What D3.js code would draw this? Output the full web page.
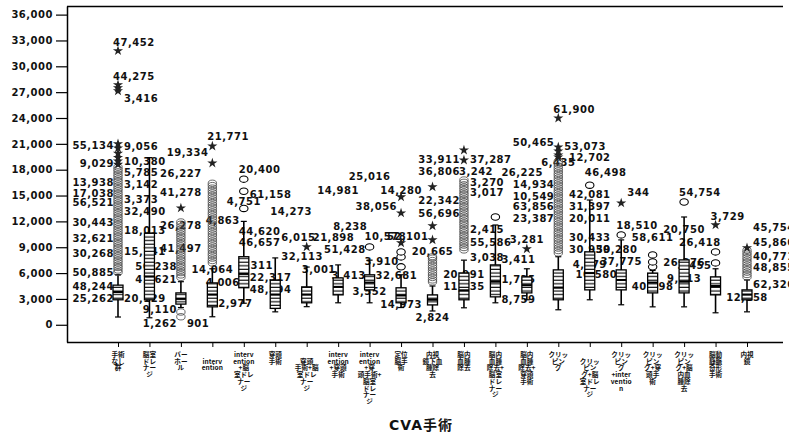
<!DOCTYPE html>
<html>
<head>
<meta charset="utf-8">
<script src="https://cdn.jsdelivr.net/npm/d3@7"></script>
<style>
  body { margin: 0; background: #fff; }
  svg { display: block; }
  text { font-family: "DejaVu Sans", sans-serif; }
</style>
</head>
<body>
<svg id="chart" width="789" height="438"></svg>
<script>
// カテゴリ（改行は表示上の折り返し）
const categories = [
  "手術\nなし\n群",
  "脳室\nドレ\nナー\nジ",
  "バー\nホー\nル",
  "\ninterv\nention",
  "interv\nention\n+脳\n室ドレ\nナー\nジ",
  "穿頭\n手術",
  "\n穿頭\n手術+脳\n室ドレ\nナー\nジ",
  "interv\nention\n+穿頭\n手術",
  "interv\nention\n+穿\n頭手術+\n脳室\nドレ\nナー\nジ",
  "定位\n脳手\n術",
  "内視\n鏡下血\n腫除\n去",
  "脳内\n血腫\n除去",
  "脳内\n血腫\n除去+\n脳室\nドレ\nナー\nジ",
  "脳内\n血腫\n除去+\n穿頭\n手術",
  "クリッ\nピン\nグ",
  "\nクリッ\nピン\nグ+脳\n室ドレ\nナー\nジ",
  "クリッ\nピン\nグ\n+inter\nventio\nn",
  "クリッ\nピン\nグ+穿\n頭手\n術",
  "クリッ\nピン\nグ+脳\n内血\n腫除\n去",
  "脳動\n静脈\n奇形\n手術",
  "内視\n鏡"
];

const yTicks = [0, 3000, 6000, 9000, 12000, 15000, 18000, 21000, 24000, 27000, 30000, 33000, 36000];

// 箱ひげ
const whiskerLow  = [900, 810, 2000, 930, 2500, 1500, 2100, 2550, 2550, 2000, 1600, 1970, 2550, 2900, 1740, 2900, 2320, 2080, 2080, 1390, 1500];
const q1          = [2900, 2900, 2400, 2080, 4300, 1900, 2550, 3470, 4050, 2550, 2300, 2900, 3240, 3700, 2900, 4050, 4050, 3700, 3700, 3470, 2900];
const medians     = [3800, 5600, 3000, 3500, 5900, 3500, 3500, 4400, 4900, 3400, 2900, 4000, 5000, 4600, 4300, 6000, 5200, 4900, 5000, 4500, 3500];
const q3          = [4600, 10650, 3700, 4860, 7900, 5200, 4400, 5440, 5800, 4290, 3470, 6020, 6950, 5560, 6370, 8460, 6370, 6000, 7530, 5560, 4050];
const whiskerHigh = [5800, 19400, 5000, 6500, 12000, 7760, 6700, 6950, 7500, 5800, 4500, 7500, 11580, 6500, 7900, 14480, 9850, 6300, 12510, 6500, 5200];

// 外れ値（○）
const outliers = [
  [6080, 6360, 6650, 6910, 7200, 7470, 7760, 8030, 8310, 8580, 8870, 9140, 9420, 9690, 9980, 10250, 10530, 10800, 11090, 11360, 11640, 11910, 12200, 12470, 12750, 13020, 13310, 13580, 13860, 14130, 14420, 14690, 14970, 15240, 15530, 15800, 16080, 16350, 16640, 16910, 17190, 17460, 17750, 18020, 18300],
  [],
  [930, 1480, 5500, 5790, 6060, 6340, 6630, 6900, 7180, 7470, 7740, 8020, 8310, 8580, 8860, 9150, 9420, 9700, 9990, 10260, 10540, 10830, 11100, 11380, 11670, 11930],
  [7180, 7460, 7740, 8030, 8300, 8590, 8860, 9140, 9430, 9700, 9980, 10270, 10540, 10820, 11110, 11380, 11660, 11950, 12220, 12500, 12790, 13060, 13340, 13630, 13900, 14180, 14470, 14740, 15020, 15310, 15580, 15860, 16150, 16420],
  [13500, 15500, 16900],
  [], [], [],
  [9040],
  [6720, 7880, 8460],
  [4980, 5210, 5490, 5770, 6040, 6330, 6610, 6880, 7170, 7450, 7720, 7880],
  [8690, 8970, 9250, 9520, 9810, 10090, 10360, 10650, 10930, 11200, 11490, 11770, 12040, 12330, 12610, 12880, 13170, 13450, 13720, 14010, 14290, 14560, 14850, 15130, 15400, 15690, 15970, 16240, 16530, 16800],
  [12510],
  [],
  [8340, 8620, 8900, 9170, 9460, 9740, 10010, 10300, 10580, 10850, 11140, 11420, 11690, 11980, 12260, 12530, 12820, 13100, 13370, 13660, 13940, 14210, 14500, 14780, 15050, 15340, 15620, 15890, 16180, 16460, 16730, 17020, 17300, 17570, 17860, 18140, 18410, 18700, 18980],
  [16200],
  [10430],
  [6720, 7300, 8110],
  [14250],
  [7180, 8460],
  [5560, 5840, 6110, 6400, 6680, 6950, 7240, 7520, 7790, 8080, 8360, 8640]
];

// 極値（★）
const extremes = [
  [18600, 19000, 19400, 19900, 20500, 21000, 27150, 27500, 27850, 31800],
  [], [13550], [18770, 20730], [], [], [9040], [], [],
  [9500, 12970, 14830],
  [9850, 11470, 16000],
  [19110, 20270],
  [], [8800],
  [19450, 19690, 20160, 20620, 23980],
  [], [14130], [], [], [11580], [8920]
];

// ケース番号ラベル [カテゴリ, 値, テキスト]
const labelsLeft = [
  [0, 20390, "55,134"], [0, 18300, "9,029"], [0, 16100, "13,938"], [0, 14830, "17,038"], [0, 13780, "56,521"],
  [0, 11470, "30,443"], [0, 9610, "32,621"], [0, 7880, "30,268"], [0, 5680, "50,885"], [0, 4050, "48,244"], [0, 2660, "25,262"],
  [2, 6370, "56,238"], [2, 4860, "41,621"], [2, 1390, "9,110"], [2, -230, "1,262"],
  [3, 19580, "19,334"], [4, 11700, "4,863"], [4, 4520, "4,006"],
  [8, 8340, "51,428"], [8, 5330, "3,413"], [9, 13320, "38,056"], [10, 9850, "52,101"],
  [11, 18770, "33,911"], [11, 17370, "36,806"], [11, 14020, "22,342"], [11, 12510, "56,696"],
  [14, 20730, "50,465"], [14, 15870, "14,934"], [14, 14480, "10,549"], [14, 13320, "63,856"], [14, 11930, "23,387"],
  [16, 5440, "10,580"], [19, 6490, "3,455"]
];
const labelsRight = [
  [0, 25830, "3,416"], [0, 20270, "9,056"], [0, 18530, "10,380"], [0, 17260, "5,785"], [0, 15870, "3,142"],
  [0, 14130, "3,373"], [0, 12740, "32,490"], [0, 10540, "18,013"], [0, 8110, "15,741"], [0, 2660, "20,129"],
  [2, -230, "901"], [3, 2080, "2,977"],
  [4, 14710, "61,158"], [4, 5100, "22,317"], [4, 3710, "48,594"],
  [5, 7530, "32,113"], [5, 9730, "6,015"], [6, 9730, "21,898"], [8, 5330, "32,681"],
  [11, 18770, "37,287"], [11, 16100, "3,270"], [11, 14940, "3,017"], [11, 10660, "2,415"], [11, 9150, "55,586"], [11, 7410, "3,038"],
  [12, 17260, "26,225"], [12, 7180, "3,411"], [12, 4860, "1,735"], [12, 2550, "8,759"],
  [14, 20270, "53,073"], [15, 8340, "59,280"], [16, 14940, "344"],
  [20, 10890, "45,754"], [20, 9150, "45,866"], [20, 7530, "40,771"], [20, 6250, "48,855"], [20, 4290, "62,326"]
];
const labelsAbove = [
  [0, 32400, "47,452"], [0, 28380, "44,275"], [3, 21430, "21,771"], [4, 17600, "20,400"], [4, 10430, "44,620"],
  [4, 9150, "46,657"], [4, 6490, "3,311"], [5, 12740, "14,273"], [6, 6020, "3,001"], [7, 11000, "8,238"],
  [8, 9850, "10,578"], [8, 6950, "3,910"], [11, 17370, "3,242"], [14, 24560, "61,900"], [15, 17260, "46,498"],
  [16, 11120, "18,510"], [18, 14940, "54,754"], [18, 9150, "26,418"], [19, 12160, "3,729"]
];
const labelsCenter = [
  [2, 17140, "26,227"], [2, 14940, "41,278"], [2, 11120, "26,278"], [2, 8450, "41,497"], [3, 6020, "14,064"],
  [4, 13900, "4,751"], [7, 15170, "14,981"], [8, 16800, "25,016"], [8, 3470, "3,552"], [9, 15170, "14,280"],
  [9, 1970, "14,973"], [10, 460, "2,824"], [10, 8110, "20,665"], [11, 5440, "20,991"], [11, 4050, "11,135"],
  [13, 9500, "3,281"], [14, 18420, "6,435"], [15, 19000, "12,702"], [15, 14710, "42,081"], [15, 13320, "31,397"],
  [15, 11930, "20,011"], [15, 9730, "30,433"], [15, 8340, "30,930"], [15, 6600, "4,079"], [16, 6950, "37,775"],
  [17, 9730, "58,611"], [17, 4050, "40,598"], [18, 10660, "20,750"], [18, 6830, "26,376"], [18, 4980, "9,013"],
  [20, 2780, "12,158"]
];

const svg = d3.select('#chart');
const W = 789, H = 438;
const plot = { left: 67, right: 783, top: 6, bottom: 342 };

svg.append('rect').attr('width', W).attr('height', H).attr('fill', '#fff');

const x = d3.scalePoint().domain(d3.range(categories.length)).range([118, 747]);
const y = d3.scaleLinear().domain([-2000, 37000]).range([plot.bottom, plot.top]);

// 箱の横縞
const defs = svg.append('defs');
const pat = defs.append('pattern')
  .attr('id', 'hatch').attr('patternUnits', 'userSpaceOnUse')
  .attr('width', 10).attr('height', 3.6);
pat.append('rect').attr('width', 10).attr('height', 3.6).attr('fill', '#fff');
pat.append('rect').attr('y', 2.4).attr('width', 10).attr('height', 1.2).attr('fill', '#111');

// 枠
svg.append('line')
  .attr('x1', plot.left).attr('x2', plot.right)
  .attr('y1', plot.top + 0.5).attr('y2', plot.top + 0.5)
  .attr('stroke', '#000').attr('stroke-width', 1.5);

// Y軸
const yAxis = svg.append('g')
  .attr('transform', `translate(${plot.left},0)`)
  .call(d3.axisLeft(y).tickValues(yTicks).tickFormat(d3.format(',')).tickSize(11).tickSizeOuter(0).tickPadding(3));
yAxis.select('.domain').attr('stroke-width', 1.5);
yAxis.selectAll('line').attr('stroke-width', 1.2);
yAxis.selectAll('text')
  .style('font-family', '"DejaVu Sans", sans-serif')
  .style('font-weight', 'bold')
  .style('font-size', '10px')
  .style('letter-spacing', '0.5px')
  .attr('fill', '#111');

// X軸
const xAxis = svg.append('g')
  .attr('transform', `translate(0,${plot.bottom})`)
  .call(d3.axisBottom(x).tickSize(5).tickSizeOuter(0).tickFormat(''));
xAxis.select('.domain').attr('d', `M${plot.left},0.5H${plot.right}`).attr('stroke-width', 1.5);

// カテゴリラベル
const catLabels = svg.append('g')
  .selectAll('text')
  .data(categories)
  .join('text')
  .attr('x', (d, i) => x(i))
  .attr('y', 357)
  .attr('text-anchor', 'middle')
  .style('font-family', '"Noto Sans CJK JP", sans-serif')
  .style('font-size', '6.6px')
  .style('font-weight', 'bold')
  .attr('fill', '#111');
catLabels.each(function(d) {
  const t = d3.select(this);
  d.split('\n').forEach((line, k) => {
    t.append('tspan').attr('x', t.attr('x')).attr('dy', k === 0 ? 0 : 6.7).text(line || ' ');
  });
});

// 軸タイトル
svg.append('text')
  .attr('x', 421).attr('y', 430)
  .attr('text-anchor', 'middle')
  .style('font-family', '"DejaVu Sans", "Noto Sans CJK JP", sans-serif')
  .style('font-size', '14px')
  .style('font-weight', 'bold')
  .style('letter-spacing', '1px')
  .attr('fill', '#111')
  .text('CVA手術');

// ケース番号ラベル
const lab = svg.append('g')
  .style('font-family', '"DejaVu Sans", sans-serif')
  .style('font-size', '10px')
  .style('font-weight', 'bold')
  .style('letter-spacing', '0.5px')
  .attr('fill', '#111');

function addLabels(list, dx, anchor) {
  lab.selectAll(null)
    .data(list)
    .join('text')
    .attr('x', d => x(d[0]) + dx)
    .attr('y', d => y(d[1]))
    .attr('text-anchor', anchor)
    .text(d => d[2]);
}
addLabels(labelsLeft, -4, 'end');
addLabels(labelsRight, 6, 'start');
addLabels(labelsAbove, -5, 'start');
addLabels(labelsCenter, 0, 'middle');

// 箱ひげ図
const bw = 10;
const boxes = svg.append('g')
  .selectAll('g')
  .data(categories.map((c, i) => i))
  .join('g')
  .attr('transform', i => `translate(${x(i)},0)`);

boxes.append('line')
  .attr('y1', i => y(whiskerLow[i])).attr('y2', i => y(whiskerHigh[i]))
  .attr('stroke', '#000').attr('stroke-width', 1.6);
boxes.append('line')
  .attr('x1', -3).attr('x2', 3)
  .attr('y1', i => y(whiskerLow[i])).attr('y2', i => y(whiskerLow[i]))
  .attr('stroke', '#000').attr('stroke-width', 1.2);
boxes.append('line')
  .attr('x1', -3).attr('x2', 3)
  .attr('y1', i => y(whiskerHigh[i])).attr('y2', i => y(whiskerHigh[i]))
  .attr('stroke', '#000').attr('stroke-width', 1.2);
boxes.append('rect')
  .attr('x', -bw / 2).attr('width', bw)
  .attr('y', i => y(q3[i])).attr('height', i => y(q1[i]) - y(q3[i]))
  .attr('fill', 'url(#hatch)')
  .attr('stroke', '#000').attr('stroke-width', 1.3);
boxes.append('line')
  .attr('x1', -bw / 2).attr('x2', bw / 2)
  .attr('y1', i => y(medians[i])).attr('y2', i => y(medians[i]))
  .attr('stroke', '#000').attr('stroke-width', 2);

// 外れ値 ○（重なると灰色の帯に見える）
boxes.each(function(i) {
  const dense = outliers[i].length > 5;
  d3.select(this).selectAll('ellipse')
    .data(outliers[i])
    .join('ellipse')
    .attr('cx', 0).attr('cy', v => y(v))
    .attr('rx', 4.2).attr('ry', 3.2)
    .attr('fill', dense ? 'none' : '#fff')
    .attr('stroke', dense ? '#444' : '#000')
    .attr('stroke-width', dense ? 0.8 : 1.1);
});

// 極値 ★
const star = d3.symbol(d3.symbolStar).size(32);
boxes.each(function(i) {
  d3.select(this).selectAll('path.star')
    .data(extremes[i])
    .join('path')
    .attr('class', 'star')
    .attr('transform', v => `translate(0,${y(v)})`)
    .attr('d', star)
    .attr('fill', '#222');
});
</script>
</body>
</html>
